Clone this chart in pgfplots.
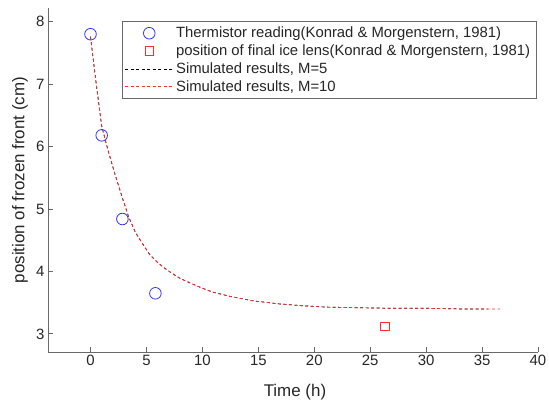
\documentclass[border=0pt]{standalone}
\usepackage{pgfplots}
\pgfplotsset{compat=1.18}
\usepackage{fontspec}
\setmainfont{Liberation Sans}
\definecolor{axgray}{RGB}{105,105,105}
\definecolor{txt}{RGB}{38,38,38}
\definecolor{mblue}{RGB}{50,50,255}
\definecolor{mred}{RGB}{255,45,45}
\pgfplotsset{
  markleg/.style={legend image code/.code={\draw[##1] plot coordinates {(24bp,0bp)};}},
  lineleg/.style={legend image code/.code={\draw[##1, draw=#1, line width=0.7bp, dash pattern=on 3bp off 2.5bp] (0bp,0bp) -- (47bp,0bp);}},
}
\begin{document}
\begin{tikzpicture}
\begin{axis}[
  scale only axis,
  width=490bp, height=344bp,
  xmin=-3.8, xmax=40, ymin=2.71, ymax=8.22,
  axis x line*=bottom, axis y line*=left,
  axis line style={axgray, line width=0.8bp},
  tick style={axgray, line width=0.8bp},
  tick align=inside, major tick length=5bp,
  xtick={0,5,...,40}, ytick={3,4,5,6,7,8},
  /pgf/number format/assume math mode=true,
  ticklabel style={font=\fontsize{15}{18}\selectfont, text=txt},
  xlabel={Time (h)}, ylabel={position of frozen front (cm)},
  label style={font=\fontsize{17}{20}\selectfont, text=txt},
  xlabel style={at={(axis description cs:0.504,-0.116)}, anchor=center},
  ylabel style={at={(axis description cs:-0.057,0.5)}, anchor=center},
  legend style={at={(axis description cs:0.998,0.963)}, anchor=north east,
    draw=axgray, line width=0.8bp, fill=white,
    font=\fontsize{14.9}{17}\selectfont, text=txt,
    inner xsep=3bp, inner ysep=4bp,
    row sep=1.6bp, nodes={inner xsep=3.5bp}},
  legend cell align=left,
]
\addplot[only marks, mark=o, mark size=5.8bp, mblue, line width=0.8bp, markleg]
  coordinates {(0,7.80) (1.0,6.18) (2.85,4.84) (5.8,3.65)};
\addlegendentry{Thermistor reading(Konrad \& Morgenstern, 1981)}
\addplot[only marks, mark=square, mark size=4.3bp, mred, line width=0.8bp, markleg]
  coordinates {(26.3,3.12)};
\addlegendentry{position of final ice lens(Konrad \& Morgenstern, 1981)}
\addplot[black, line width=0.7bp, dash pattern=on 3bp off 2.5bp, no marks, lineleg=black]
  coordinates {(0,7.76) (0.5,7.02) (1.0,6.33) (1.55,5.95) (2.15,5.58) (2.9,5.15) (3.4,4.88) (4.0,4.63) (4.7,4.43) (5.3,4.27) (5.9,4.16) (6.5,4.07) (7.2,3.98) (8.0,3.89) (8.6,3.84) (9.75,3.75) (10.9,3.67) (12.5,3.60) (14.5,3.53) (16.9,3.48) (19,3.45) (21,3.43) (23.5,3.42) (27,3.41) (30,3.41) (33,3.40) (35.5,3.40)};
\addlegendentry{Simulated results, M=5}
\addplot[mred, line width=0.7bp, dash pattern=on 3bp off 2.5bp, no marks, lineleg=mred]
  coordinates {(0,7.76) (0.5,7.02) (1.0,6.33) (1.55,5.95) (2.15,5.58) (2.9,5.15) (3.4,4.88) (4.0,4.63) (4.7,4.43) (5.3,4.27) (5.9,4.16) (6.5,4.07) (7.2,3.98) (8.0,3.89) (8.6,3.84) (9.75,3.75) (10.9,3.67) (12.5,3.60) (14.5,3.53) (16.9,3.48) (19,3.45) (21,3.43) (23.5,3.42) (27,3.41) (30,3.41) (33,3.40) (36.6,3.40)};
\addlegendentry{Simulated results, M=10}
\end{axis}
\pgfresetboundingbox
\path ([shift={(-48bp,-53bp)}]current axis.south west) rectangle ([shift={(501bp,352bp)}]current axis.south west);
\end{tikzpicture}
\end{document}
